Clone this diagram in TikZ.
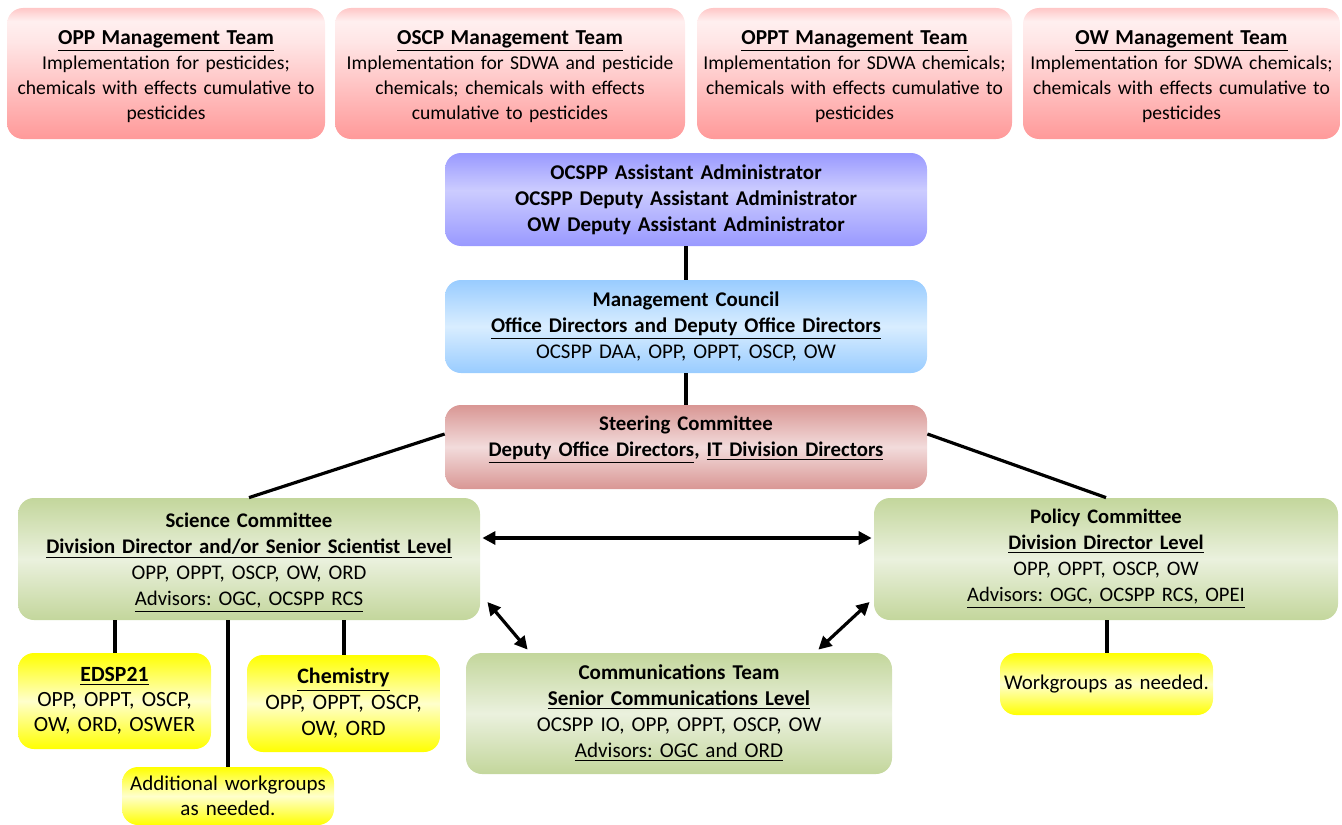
\documentclass[tikz,border=0pt]{standalone}
\usepackage{fontspec}
\setmainfont{Carlito}
\usetikzlibrary{arrows.meta,calc}
\frenchspacing

\pgfdeclareverticalshading{redsh}{100bp}{rgb(0bp)=(1,0.6,0.6); rgb(25bp)=(1,0.6,0.6); rgb(62bp)=(1,0.90,0.90); rgb(70bp)=(1,0.94,0.94); rgb(75bp)=(1,0.78,0.78); rgb(100bp)=(1,0.78,0.78)}
\pgfdeclareverticalshading{purplesh}{100bp}{rgb(0bp)=(0.6,0.6,1); rgb(25bp)=(0.6,0.6,1); rgb(55bp)=(0.8,0.8,1); rgb(75bp)=(0.6,0.6,1); rgb(100bp)=(0.6,0.6,1)}
\pgfdeclareverticalshading{bluesh}{100bp}{rgb(0bp)=(0.6,0.8,1); rgb(25bp)=(0.6,0.8,1); rgb(50bp)=(0.85,0.93,1); rgb(75bp)=(0.6,0.8,1); rgb(100bp)=(0.6,0.8,1)}
\pgfdeclareverticalshading{rosesh}{100bp}{rgb(0bp)=(0.85,0.59,0.58); rgb(25bp)=(0.85,0.59,0.58); rgb(50bp)=(0.95,0.86,0.86); rgb(75bp)=(0.85,0.59,0.58); rgb(100bp)=(0.85,0.59,0.58)}
\pgfdeclareverticalshading{greensh}{100bp}{rgb(0bp)=(0.765,0.84,0.61); rgb(25bp)=(0.765,0.84,0.61); rgb(50bp)=(0.92,0.945,0.87); rgb(75bp)=(0.765,0.84,0.61); rgb(100bp)=(0.765,0.84,0.61)}
\pgfdeclareverticalshading{yellowsh}{100bp}{rgb(0bp)=(1,1,0); rgb(25bp)=(1,1,0); rgb(50bp)=(1,1,0.8); rgb(75bp)=(1,1,0); rgb(100bp)=(1,1,0)}

\newcommand{\tophead}[1]{{\fontsize{10.65}{12.5}\selectfont\underline{\textbf{#1}}}}

\tikzset{
  box/.style={rectangle, rounded corners=8pt, inner sep=0pt, align=center,
    font=\fontsize{10.4}{13}\selectfont, shade},
  toptext/.style={font=\fontsize{9.8}{12.5}\selectfont, align=center, text width=156pt, yshift=-1.5pt},
  topbox/.style={box, shading=redsh, minimum height=65.5pt},
  purplebox/.style={box, shading=purplesh},
  bluebox/.style={box, shading=bluesh},
  rosebox/.style={box, shading=rosesh},
  greenbox/.style={box, shading=greensh},
  yellowbox/.style={box, shading=yellowsh},
  link/.style={line width=2pt},
  dlink/.style={line width=1.6pt},
  biarrow/.style={line width=1.6pt, {Triangle[length=6.5pt,width=6.5pt]}-{Triangle[length=6.5pt,width=6.5pt]}}
}

\begin{document}
\begin{tikzpicture}[x=0.5pt,y=-0.5pt]
\path[use as bounding box] (0,0) rectangle (1342,824);
\clip (0,0) rectangle (1342,824);

% top management teams
\node[topbox, minimum width=159pt,
  label={[toptext]center:{\tophead{OPP Management Team}\\Implementation for pesticides;\\chemicals with effects cumulative to\\pesticides}}] (opp) at (166,73.5) {};
\node[topbox, minimum width=175pt,
  label={[toptext, text width=173pt]center:{\tophead{OSCP Management Team}\\Implementation for SDWA and pesticide\\chemicals; chemicals with effects\\cumulative to pesticides}}] (oscp) at (510,73.5) {};
\node[topbox, minimum width=157.5pt,
  label={[toptext]center:{\tophead{OPPT Management Team}\\Implementation for SDWA chemicals;\\chemicals with effects cumulative to\\pesticides}}] (oppt) at (854.5,73.5) {};
\node[topbox, minimum width=158.5pt,
  label={[toptext]center:{\tophead{OW Management Team}\\Implementation for SDWA chemicals;\\chemicals with effects cumulative to\\pesticides}}] (ow) at (1181.5,73.5) {};

% hierarchy
\node[purplebox, minimum width=241pt, minimum height=46.5pt, text width=238pt, font=\fontsize{10.5}{13}\selectfont] (aa) at (686,199.5)
  {\textbf{OCSPP Assistant Administrator}\\\textbf{OCSPP Deputy Assistant Administrator}\\\textbf{OW Deputy Assistant Administrator}};
\node[bluebox, minimum width=241pt, minimum height=46.5pt, text width=238pt, font=\fontsize{10.45}{13}\selectfont] (mc) at (686,326.5)
  {\textbf{Management Council}\\\underline{\textbf{Office Directors and Deputy Office Directors}}\\OCSPP DAA, OPP, OPPT, OSCP, OW};
\node[rosebox, minimum width=241pt, minimum height=42pt,
  label={[font=\fontsize{10.4}{13}\selectfont, align=center, text width=238pt, yshift=3.5pt]center:{\textbf{Steering Committee}\\\underline{\textbf{Deputy Office Directors}}\textbf{,} \underline{\textbf{IT Division Directors}}}}] (steer) at (686,447) {};

% committees
\node[greenbox, minimum width=231pt, minimum height=61pt,
  label={[font=\fontsize{10.4}{13}\selectfont, align=center, text width=229pt, yshift=-2pt]center:{\textbf{Science Committee}\\\underline{\textbf{Division Director and/or Senior Scientist Level}}\\OPP, OPPT, OSCP, OW, ORD\\\underline{Advisors: OGC, OCSPP RCS}}}] (sci) at (249,559) {};
\node[greenbox, minimum width=232pt, minimum height=61pt, text width=229pt, font=\fontsize{10.3}{13}\selectfont] (pol) at (1106,559)
  {\textbf{Policy Committee}\\\underline{\textbf{Division Director Level}}\\OPP, OPPT, OSCP, OW\\\underline{Advisors: OGC, OCSPP RCS, OPEI}};
\node[greenbox, minimum width=213pt, minimum height=60.5pt, text width=210pt, font=\fontsize{10.55}{13}\selectfont] (comm) at (679,713.5)
  {\textbf{Communications Team}\\\underline{\textbf{Senior Communications Level}}\\OCSPP IO, OPP, OPPT, OSCP, OW\\\underline{Advisors: OGC and ORD}};

% workgroups
\node[yellowbox, minimum width=96.5pt, minimum height=48pt, text width=95pt, font=\fontsize{10.85}{12.5}\selectfont] (edsp) at (114.5,701)
  {\underline{\textbf{EDSP21}}\\OPP, OPPT, OSCP,\\OW, ORD, OSWER};
\node[yellowbox, minimum width=96.5pt, minimum height=48.5pt, text width=95pt, font=\fontsize{11}{13}\selectfont] (chem) at (343.5,703.5)
  {\underline{\textbf{Chemistry}}\\OPP, OPPT, OSCP,\\OW, ORD};
\node[yellowbox, minimum width=106pt, minimum height=29pt, text width=105pt, font=\fontsize{10.5}{12.5}\selectfont] (addl) at (228,796)
  {Additional workgroups\\as needed.};
\node[yellowbox, minimum width=106.5pt, minimum height=31pt, text width=105pt, font=\fontsize{10.45}{12.5}\selectfont] (wg) at (1106.5,684)
  {Workgroups as needed.};

% connectors
\draw[link] (aa.south) -- (mc.north);
\draw[link] (mc.south) -- (steer.north);
\draw[dlink] ($(steer.west)+(0,-13)$) -- (sci.north);
\draw[dlink] ($(steer.east)+(0,-13)$) -- (pol.north);
\draw[biarrow] ($(sci.east)+(2,-21)$) -- ($(pol.west)+(-2,-21)$);
\draw[biarrow] ($(sci.east)+(7,43)$) -- ($(comm.north west)+(62,-3)$);
\draw[biarrow] ($(pol.west)+(-4,43)$) -- ($(comm.north east)+(-74,-3)$);
\draw[link] (edsp.north) -- (edsp.north |- sci.south);
\draw[link] (addl.north) -- (addl.north |- sci.south);
\draw[link] (chem.north) -- (chem.north |- sci.south);
\draw[link] (wg.north) -- (wg.north |- pol.south);
\end{tikzpicture}
\end{document}
